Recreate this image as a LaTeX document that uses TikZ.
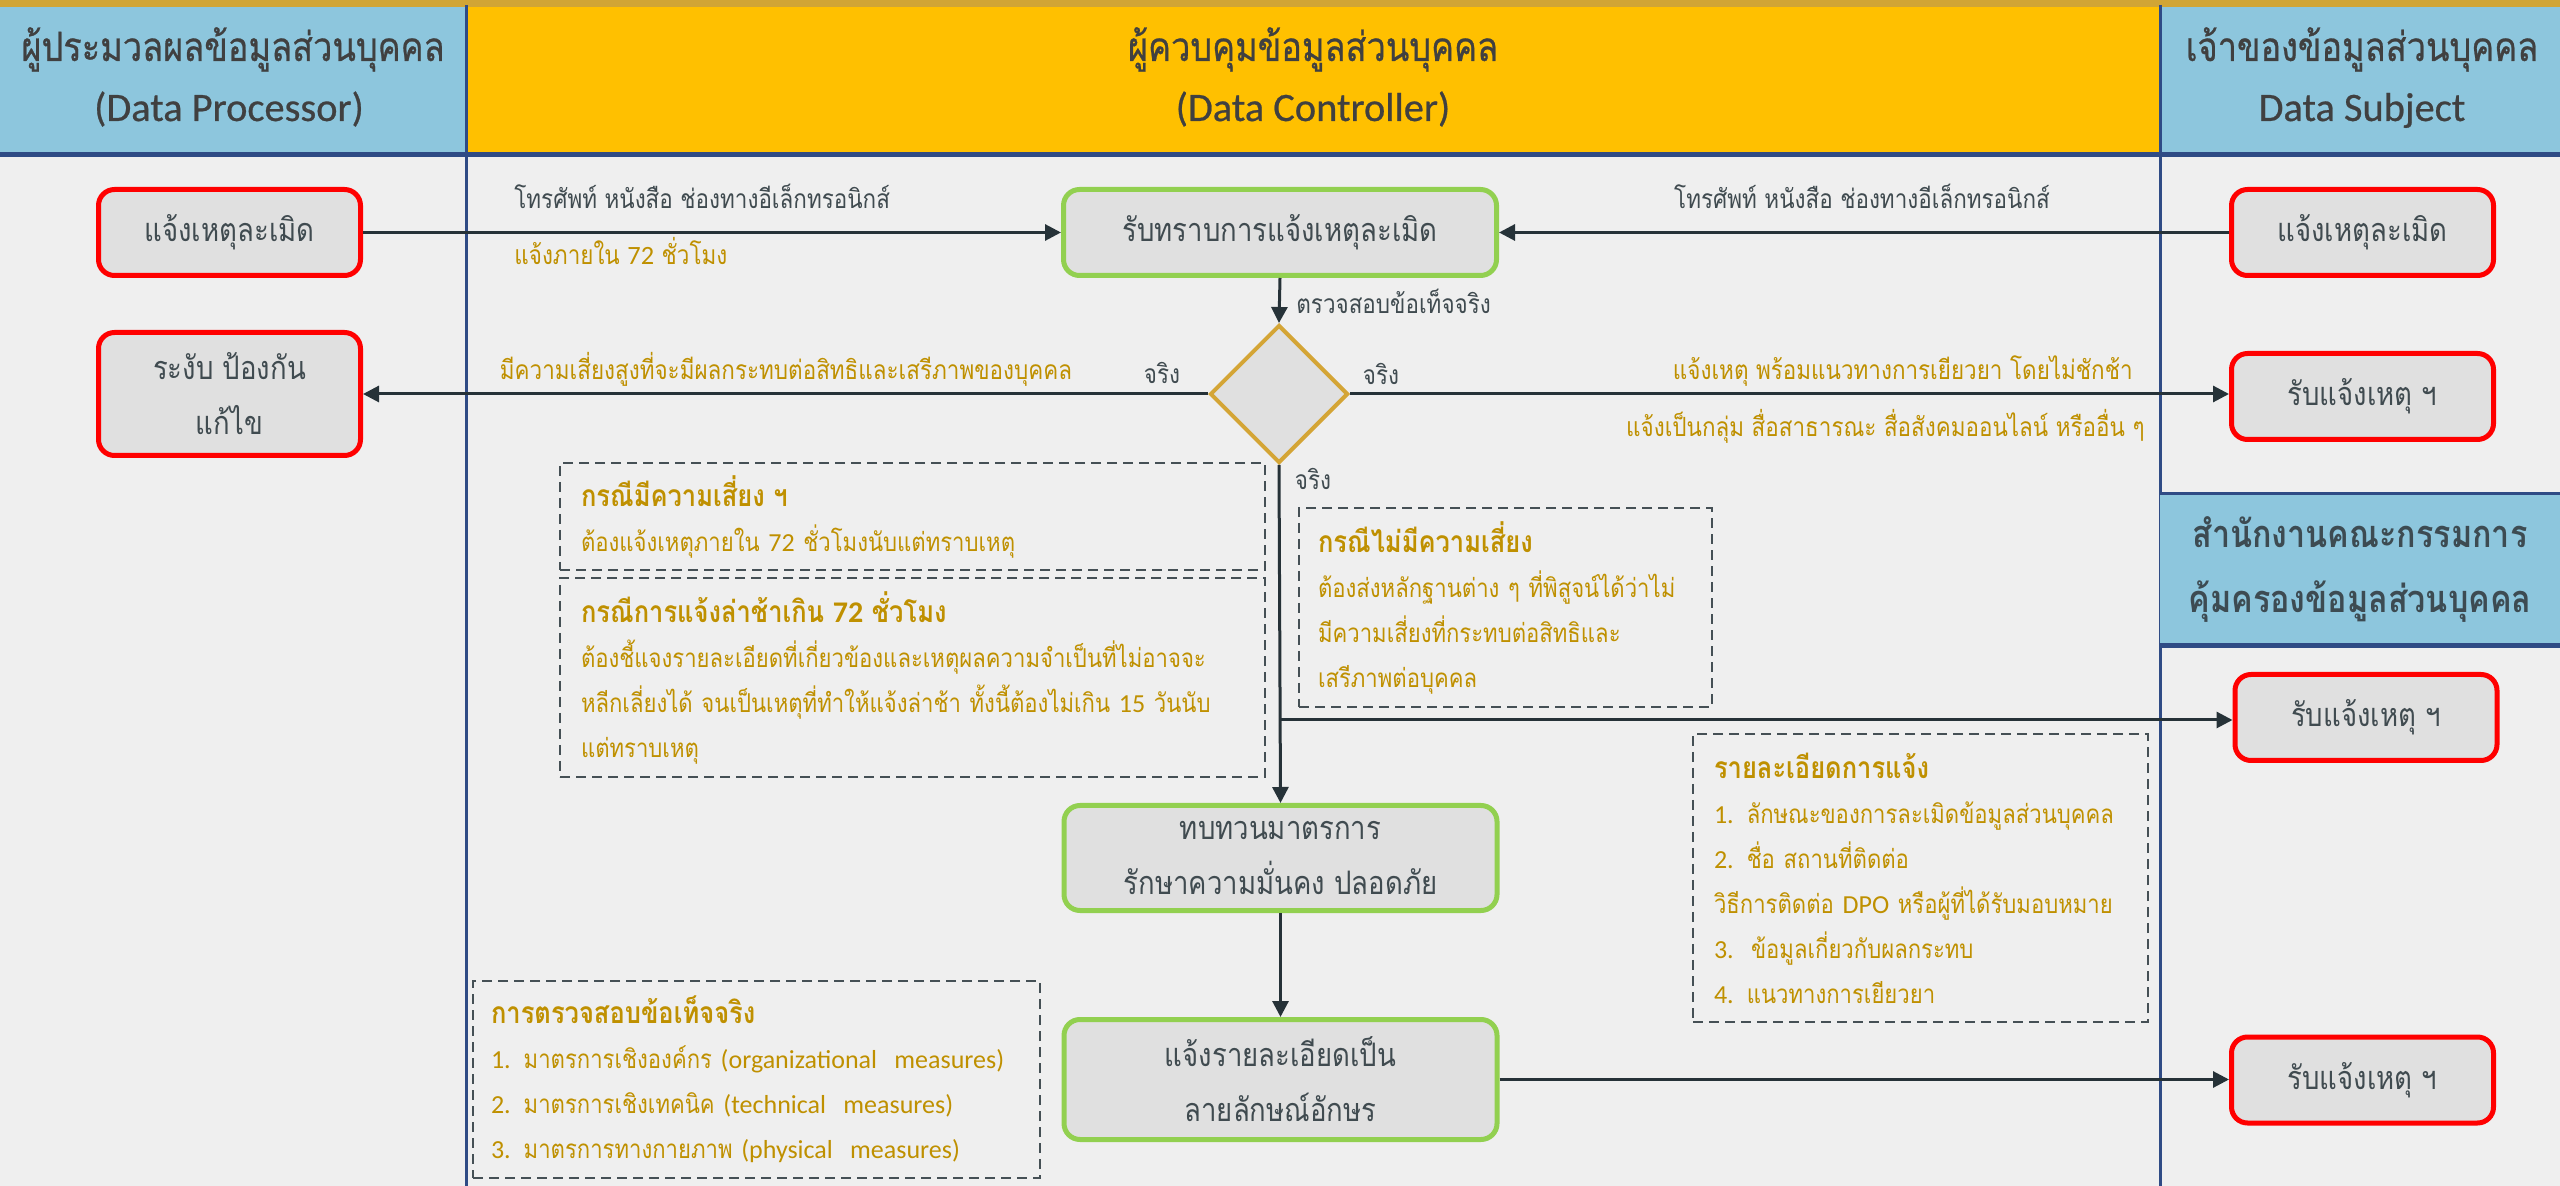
\documentclass[tikz,border=0pt]{standalone}
\usepackage{fontspec}
\setmainfont[Script=Thai,FakeStretch=0.85]{Loma}
\newfontfamily\lat{Carlito}
\newfontfamily\hfont[Script=Thai,FakeStretch=0.85,FakeBold=0.6]{Loma}
\newfontfamily\hlat[FakeBold=0.6]{Carlito}
\usetikzlibrary{arrows.meta,shapes.geometric}
\definecolor{goldbar}{HTML}{D1A535}
\definecolor{hblue}{HTML}{8DC6DD}
\definecolor{hyellow}{HTML}{FFC000}
\definecolor{bgc}{HTML}{EFEFEF}
\definecolor{divblue}{HTML}{2F4B85}
\definecolor{boxfill}{HTML}{E0E0E0}
\definecolor{redb}{HTML}{FF0000}
\definecolor{greenb}{HTML}{92D050}
\definecolor{txt}{HTML}{404B50}
\definecolor{htxt}{HTML}{404040}
\definecolor{ptxt}{HTML}{3D4B52}
\definecolor{gtxt}{HTML}{BF9000}
\definecolor{arr}{HTML}{263238}
\definecolor{dia}{HTML}{D4A536}
\definecolor{dashc}{HTML}{455055}
\newcommand{\ttl}[1]{{\fontsize{15}{22.5}\selectfont\bfseries #1}}
\newcommand{\ltn}[1]{{\lat #1}}
\tikzset{
  box/.style={rectangle, rounded corners=8pt, fill=boxfill, line width=2.5pt,
    align=center, text=txt, inner sep=0pt, minimum width=131pt,
    font=\fontsize{16.2}{27.5}\selectfont},
  redbox/.style={box, draw=redb, minimum height=43pt},
  greenbox/.style={box, draw=greenb, minimum width=216.5pt},
  lbl/.style={inner sep=0pt, text=txt, text height=10pt, text depth=3pt,
    font=\fontsize{13.2}{15}\selectfont},
  glbl/.style={lbl, text=gtxt},
  htext/.style={inner sep=0pt, text=htxt, text height=15pt, text depth=4pt,
    font=\hfont\fontsize{20.2}{24}\selectfont},
  hltext/.style={htext, font=\hlat\fontsize{20.2}{24}\selectfont},
  ptext/.style={htext, text=ptxt, font=\fontsize{19}{24}\selectfont\bfseries},
  dbox/.style={draw=dashc, line width=1pt, dash pattern=on 5pt off 3pt,
    align=left, text=gtxt, inner ysep=0pt,
    font=\fontsize{13}{22.5}\selectfont},
  arrow/.style={draw=arr, line width=1.5pt, -{Triangle[length=8pt,width=8pt]}},
}
\begin{document}
\begin{tikzpicture}[x=0.5pt,y=-0.5pt]
\useasboundingbox (0,0) rectangle (2560,1186);
\fill[bgc] (0,0) rectangle (2560,1186);
% header
\fill[goldbar] (0,0) rectangle (2560,7);
\fill[hblue] (0,7) rectangle (466,153);
\fill[hyellow] (466,7) rectangle (2160,153);
\fill[hblue] (2160,7) rectangle (2560,153);
\fill[divblue] (0,152) rectangle (2560,157);
\draw[divblue, line width=1.5pt] (466,5) -- (466,1186);
\draw[divblue, line width=1.5pt] (2160,5) -- (2160,1186);
% PDPC box
\fill[hblue] (2160,494) rectangle (2560,648);
\draw[divblue, line width=1.5pt] (2160,494) -- (2560,494);
\fill[divblue] (2160,643) rectangle (2560,648);

\node[htext] (h1a) at (233,50) {ผู้ประมวลผลข้อมูลส่วนบุคคล};
\node[hltext] (h1b) at (229,110) {(Data Processor)};
\node[htext] (h2a) at (1313,50) {ผู้ควบคุมข้อมูลส่วนบุคคล};
\node[hltext] (h2b) at (1313,110) {(Data Controller)};
\node[htext] (h3a) at (2362,50) {เจ้าของข้อมูลส่วนบุคคล};
\node[hltext] (h3b) at (2362,110) {Data Subject};
\node[ptext] (p1) at (2360,537) {สำนักงานคณะกรรมการ};
\node[ptext] (p2) at (2360,602) {คุ้มครองข้อมูลส่วนบุคคล};

% boxes
\node[redbox] (L1) at (229.5,232.5) {แจ้งเหตุละเมิด};
\node[redbox, minimum height=61.5pt] (L2) at (229.5,394) {ระงับ ป้องกัน\\แก้ไข};
\node[redbox] (R1) at (2362.5,232.5) {แจ้งเหตุละเมิด};
\node[redbox] (R2) at (2362.5,396.5) {รับแจ้งเหตุ ฯ};
\node[redbox] (R3) at (2366,717.5) {รับแจ้งเหตุ ฯ};
\node[redbox] (R4) at (2362.5,1080) {รับแจ้งเหตุ ฯ};
\node[greenbox, minimum height=43pt] (G1) at (1280,232.5) {รับทราบการแจ้งเหตุละเมิด};
\node[greenbox, minimum height=52.5pt] (G2) at (1280.5,858) {ทบทวนมาตรการ\\รักษาความมั่นคง ปลอดภัย};
\node[greenbox, minimum height=60pt] (G3) at (1280.5,1079.5) {แจ้งรายละเอียดเป็น\\ลายลักษณ์อักษร};
\node[diamond, aspect=1, draw=dia, fill=boxfill, line width=2pt, inner sep=0pt,
  minimum width=69pt, minimum height=69pt] (D) at (1279,394) {};

% dashed boxes
\node[dbox, text width=331.5pt, inner xsep=10.5pt, minimum height=53.5pt] (A) at (912.5,516.5)
  {\ttl{กรณีมีความเสี่ยง ฯ}\\ต้องแจ้งเหตุภายใน \ltn{72} ชั่วโมงนับแต่ทราบเหตุ};
\node[dbox, text width=331.5pt, inner xsep=10.5pt, minimum height=99.5pt] (B) at (912.5,677.5)
  {\ttl{กรณีการแจ้งล่าช้าเกิน \ltn{72} ชั่วโมง}\\ต้องชี้แจงรายละเอียดที่เกี่ยวข้องและเหตุผลความจำเป็นที่ไม่อาจจะ\\หลีกเลี่ยงได้ จนเป็นเหตุที่ทำให้แจ้งล่าช้า ทั้งนี้ต้องไม่เกิน \ltn{15} วันนับ\\แต่ทราบเหตุ};
\node[dbox, text width=187.5pt, inner xsep=9.5pt, minimum height=99.5pt] (C) at (1505.5,607.5)
  {\ttl{กรณีไม่มีความเสี่ยง}\\ต้องส่งหลักฐานต่าง ๆ ที่พิสูจน์ได้ว่าไม่\\มีความเสี่ยงที่กระทบต่อสิทธิและ\\เสรีภาพต่อบุคคล};
\node[dbox, text width=206.5pt, inner xsep=10.5pt, minimum height=144pt] (E) at (1920.5,878)
  {\ttl{รายละเอียดการแจ้ง}\\\ltn{1.} ลักษณะของการละเมิดข้อมูลส่วนบุคคล\\\ltn{2.} ชื่อ สถานที่ติดต่อ\\วิธีการติดต่อ \ltn{DPO} หรือผู้ที่ได้รับมอบหมาย\\\ltn{3.\ \ }ข้อมูลเกี่ยวกับผลกระทบ\\\ltn{4.} แนวทางการเยียวยา};
\node[dbox, text width=265.5pt, inner xsep=9pt, minimum height=98.5pt] (F) at (756.5,1079.5)
  {\ttl{การตรวจสอบข้อเท็จจริง}\\\ltn{1.} มาตรการเชิงองค์กร \ltn{(organizational\ \ measures)}\\\ltn{2.} มาตรการเชิงเทคนิค \ltn{(technical\ \ measures)}\\\ltn{3.} มาตรการทางกายภาพ \ltn{(physical\ \ measures)}};

% arrows
\draw[arrow] (L1.east) -- (G1.west);
\draw[arrow] (R1.west) -- (G1.east);
\draw[arrow] (G1.south) -- (D.north);
\draw[arrow] (D.west) -- (L2.east);
\draw[arrow] (D.east) -- (D.east -| R2.west);
\draw[arrow] (D.south) -- (G2.north);
\coordinate (br) at (1280,720);
\draw[arrow] (br) -- (br -| R3.west);
\draw[arrow] (G2.south) -- (G3.north);
\draw[arrow] (G3.east) -- (G3.east -| R4.west);

% labels
\node[lbl, anchor=west] (t1) at (514,202) {โทรศัพท์ หนังสือ ช่องทางอีเล็กทรอนิกส์};
\node[glbl, anchor=west] (t2) at (514,258) {แจ้งภายใน \ltn{72} ชั่วโมง};
\node[lbl] (t3) at (1862,202) {โทรศัพท์ หนังสือ ช่องทางอีเล็กทรอนิกส์};
\node[glbl] (t4) at (786,373) {มีความเสี่ยงสูงที่จะมีผลกระทบต่อสิทธิและเสรีภาพของบุคคล};
\node[lbl] (t5) at (1162,377) {จริง};
\node[lbl] (t6) at (1381,378) {จริง};
\node[glbl, anchor=east] (t7) at (2133,373) {แจ้งเหตุ พร้อมแนวทางการเยียวยา โดยไม่ชักช้า};
\node[glbl, anchor=east] (t8) at (2145,430) {แจ้งเป็นกลุ่ม สื่อสาธารณะ สื่อสังคมออนไลน์ หรืออื่น ๆ};
\node[lbl, anchor=west] (t9) at (1296,307) {ตรวจสอบข้อเท็จจริง};
\node[lbl] (t10) at (1313,483) {จริง};
\end{tikzpicture}
\end{document}
